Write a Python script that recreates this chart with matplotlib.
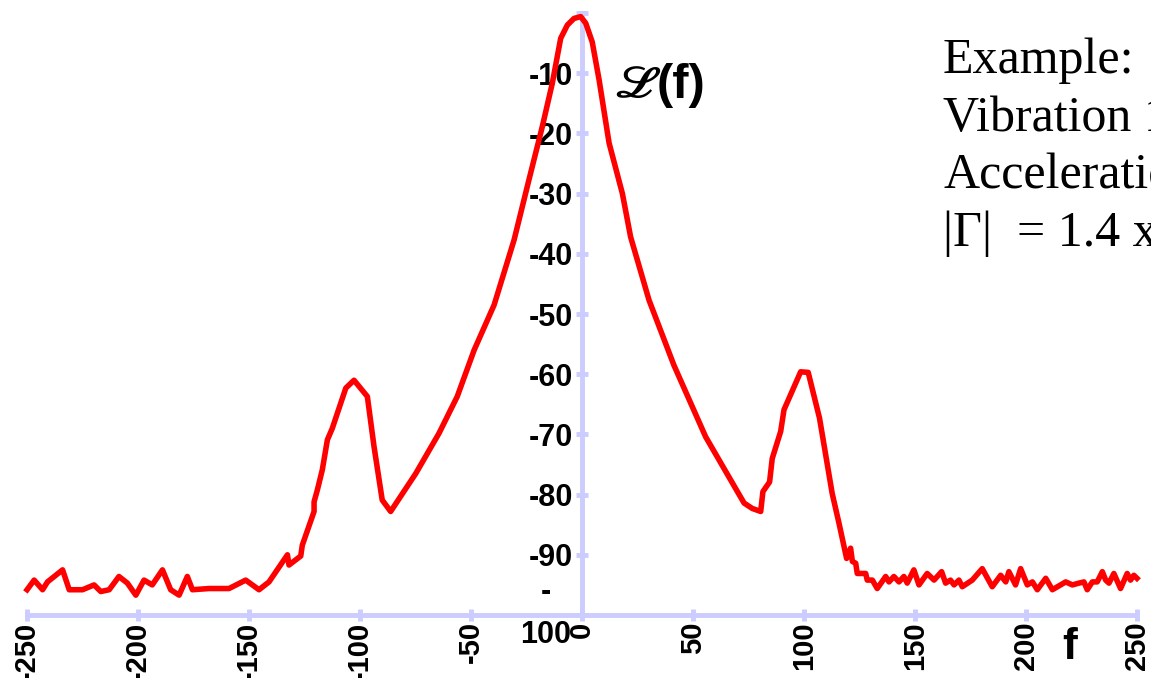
import matplotlib
matplotlib.use("Agg")
import matplotlib.pyplot as plt

# Spectre de bruit de phase L(f)
freq = [-250, -246.8, -243, -240.8, -234, -231, -225, -219.8, -216.8, -213,
        -208.6, -204.8, -201, -197.3, -193.6, -189, -185.3, -181.5, -177.8, -175.5,
        -168, -159, -151.5, -145.5, -141, -132.7, -132, -126.7, -126, -120.7,
        -120.7, -119.2, -117, -114.7, -112.5, -106.4, -102.7, -96.7, -93.7, -90,
        -86.2, -74.9, -64.4, -56.2, -48.6, -39.6, -30.6, -23.9, -17.9, -13.4,
        -9.6, -6.6, -3.6, -0.6, 1.7, 4.6, 7.7, 12.2, 18.2, 21.9,
        30.2, 37.7, 41.4, 55.7, 73, 76.7, 80.5, 81.5, 84.5, 85.7,
        89.5, 91, 98.5, 101.9, 107, 112.7, 115.8, 119.2, 121, 121.8,
        123.3, 124, 127.8, 128.5, 130.8, 133, 136.8, 138.3, 140.5, 142.8,
        145, 146.5, 149.5, 151.8, 155.5, 158.6, 162, 163.8, 166, 167.6,
        169.8, 171.3, 175.8, 180.3, 184.8, 188.6, 190.9, 192.3, 195.3, 197.6,
        200.6, 202.9, 205.1, 208.9, 211.9, 217.9, 220.9, 223.9, 226.1, 227.6,
        229.9, 232.1, 234.4, 235.9, 237.4, 239.6, 242.6, 245.6, 247.1, 248.6,
        250]
niveau = [-95.8, -94.2, -95.8, -94.5, -92.5, -95.8, -95.8, -95.0, -96.1, -95.8,
          -93.6, -94.7, -96.7, -94.2, -95.0, -92.5, -95.8, -96.7, -93.6, -95.8,
          -95.6, -95.6, -94.2, -95.8, -94.5, -90.0, -91.7, -90.2, -88.4, -82.8,
          -81.2, -79.2, -75.9, -70.9, -69.0, -62.3, -61.0, -63.7, -72.0, -80.9,
          -82.8, -76.5, -69.8, -63.7, -56.0, -48.5, -37.7, -27.7, -18.9, -11.7,
          -4.2, -2.0, -0.9, -0.6, -1.7, -4.8, -11.1, -21.6, -30.0, -37.2,
          -47.7, -54.9, -58.5, -70.4, -81.4, -82.3, -82.8, -79.5, -77.9, -74.0,
          -69.5, -65.9, -59.6, -59.7, -67.3, -79.8, -84.8, -90.6, -88.9, -91.1,
          -91.4, -93.1, -93.1, -94.2, -94.2, -95.6, -93.6, -94.5, -93.6, -94.5,
          -93.6, -94.7, -92.5, -95.0, -93.1, -94.2, -92.8, -94.7, -94.2, -95.0,
          -94.2, -95.3, -94.2, -92.3, -95.3, -93.4, -94.5, -92.8, -95.0, -92.3,
          -95.0, -94.5, -95.8, -93.9, -95.8, -94.5, -95.0, -94.7, -94.5, -95.8,
          -94.5, -94.5, -92.8, -94.2, -94.7, -93.1, -95.6, -93.1, -94.2, -93.4,
          -93.9]

xticks = [-250, -200, -150, -100, -50, 0, 50, 100, 150, 200, 250]
yticks = [0, -10, -20, -30, -40, -50, -60, -70, -80, -90, -100]
ytick_labels = ["", "-10", "-20", "-30", "-40", "-50", "-60", "-70", "-80", "-90", ""]

texte_exemple = "Example:\nVibration 1\nAcceleration\n|Γ|  = 1.4 x"

axe_couleur = "#ccccff"

fig = plt.figure(figsize=(11.51, 6.78), dpi=100)
ax = fig.add_axes([0.0235, 0.0929, 0.9643, 0.8879])

ax.plot(freq, niveau, color="red", linewidth=4, clip_on=False, zorder=3)

ax.set_xlim(-250, 250)
ax.set_ylim(-100, 0)

# axes en croix : axe vertical au centre
ax.spines["top"].set_visible(False)
ax.spines["right"].set_visible(False)
ax.spines["left"].set_position(("data", 0))
for s in ["left", "bottom"]:
    ax.spines[s].set_color(axe_couleur)
    ax.spines[s].set_linewidth(3.5)

ax.set_xticks(xticks)
ax.set_yticks(yticks)
ax.set_xticklabels([str(v) for v in xticks], rotation=90, fontweight="bold",
                   fontsize=21, family="Liberation Sans")
ax.set_yticklabels(ytick_labels, fontweight="bold", fontsize=22,
                   family="Liberation Sans")
ax.tick_params(axis="both", direction="inout", length=9, width=3.5,
               color=axe_couleur)
ax.tick_params(axis="x", pad=0)
ax.tick_params(axis="y", pad=2)

# l'etiquette -100 est coupee sur deux lignes dans l'original
ax.text(-16.5, -99.8, "-\n100", ha="center", va="center", fontsize=22,
        fontweight="bold", family="Liberation Sans", linespacing=1.55)

ax.text(216.5, -102, "f", fontsize=32, fontweight="bold",
        family="Liberation Sans", va="top")

ax.text(14.5, -12.2, "\u2112", fontsize=32, fontweight="bold", style="italic",
        family="STIXGeneral", va="center")
ax.text(33.8, -12.0, "(f)", fontsize=35, fontweight="bold",
        family="Liberation Sans", va="center")

fig.text(943 / 1151, 1 - 38 / 678, texte_exemple, fontsize=36,
         family="Liberation Serif", va="top", ha="left", linespacing=1.31)

fig.savefig("out.png", dpi=100)
